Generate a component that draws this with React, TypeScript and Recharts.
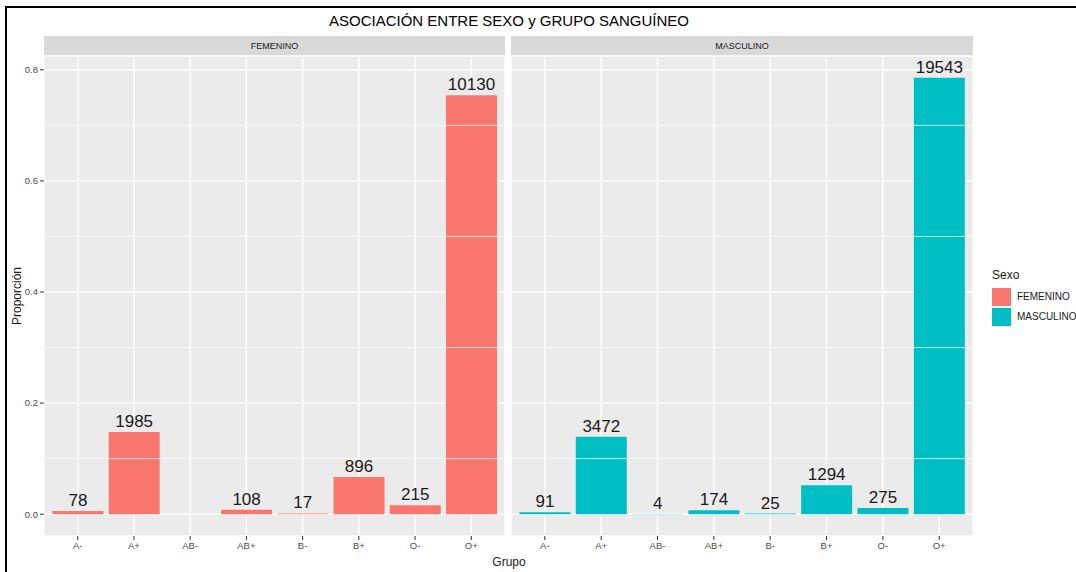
import { BarChart, Bar, XAxis, YAxis, CartesianGrid, ReferenceLine, LabelList } from "recharts";

const GROUPS = ["A-", "A+", "AB-", "AB+", "B-", "B+", "O-", "O+"];
// conteos por grupo (FEMENINO no tiene AB-)
const FEMENINO = [78, 1985, null, 108, 17, 896, 215, 10130];
const MASCULINO = [91, 3472, 4, 174, 25, 1294, 275, 19543];
const SEXES = ["FEMENINO", "MASCULINO"];
const COLORS = ["#F8766D", "#00BFC4"];
const Y_TICKS = [0, 0.2, 0.4, 0.6, 0.8];
const Y_MINOR = [0.1, 0.3, 0.5, 0.7];

const FONT = "'Liberation Sans', Arial, sans-serif";

type Row = { grupo: string; n: number | null; prop: number | null };

function toRows(counts: (number | null)[]): Row[] {
  const total = counts.reduce((s: number, v) => s + (v ?? 0), 0);
  return GROUPS.map((g, i) => ({
    grupo: g,
    n: counts[i],
    prop: counts[i] == null ? null : (counts[i] as number) / total,
  }));
}

const ROWS = [toRows(FEMENINO), toRows(MASCULINO)];
const maxP = Math.max(...ROWS.flat().map((r) => r.prop ?? 0));
// ggplot style 5% expansion
const DOMAIN: [number, number] = [-0.05 * maxP, 1.05 * maxP];

function Panel({ idx, left, width, showY }: { idx: number; left: number; width: number; showY: boolean }) {
  const plotW = width - (showY ? 44 : 0);
  const pad = plotW / 82;
  return (
    <div style={{ position: "absolute", left, top: 0 }}>
      <div
        style={{
          position: "absolute",
          left: showY ? 44 : 0,
          top: 36,
          width: plotW,
          height: 20,
          background: "#D9D9D9",
          color: "#1A1A1A",
          fontSize: 9,
          lineHeight: "20px",
          textAlign: "center",
        }}
      >
        {SEXES[idx]}
      </div>
      <BarChart
        width={width}
        height={572}
        data={ROWS[idx]}
        margin={{ top: 56, right: 0, bottom: 0, left: 0 }}
        barCategoryGap="5%"
      >
        <CartesianGrid fill="#EBEBEB" stroke="#FFFFFF" strokeWidth={1.4} />
        {Y_MINOR.map((v) => (
          <ReferenceLine key={v} y={v} stroke="#FFFFFF" strokeWidth={0.7} />
        ))}
        <XAxis
          dataKey="grupo"
          height={36}
          interval={0}
          padding={{ left: pad, right: pad }}
          axisLine={false}
          tickSize={4}
          tickLine={{ stroke: "#333333" }}
          tick={{ fontSize: 9.5, fill: "#4D4D4D" }}
        />
        <YAxis
          hide={!showY}
          width={showY ? 44 : 0}
          domain={DOMAIN}
          ticks={Y_TICKS}
          axisLine={false}
          tickSize={4}
          tickLine={{ stroke: "#333333" }}
          tick={{ fontSize: 9.5, fill: "#4D4D4D" }}
          tickFormatter={(v: number) => v.toFixed(1)}
        />
        <Bar dataKey="prop" fill={COLORS[idx]} isAnimationActive={false}>
          <LabelList
            dataKey="n"
            position="top"
            offset={5}
            formatter={(v: any) => (v == null ? "" : String(v))}
            style={{ fontSize: 17, fill: "#1A1A1A" }}
          />
        </Bar>
      </BarChart>
    </div>
  );
}

export default function App() {
  return (
    <div
      style={{
        position: "fixed",
        left: 0,
        top: 0,
        width: 1076,
        height: 572,
        background: "#FFFFFF",
        fontFamily: FONT,
        overflow: "hidden",
      }}
    >
      <div
        style={{
          position: "absolute",
          left: 5,
          top: 6,
          width: 1200,
          height: 700,
          borderLeft: "2px solid #000",
          borderTop: "2px solid #000",
        }}
      />
      <div
        style={{
          position: "absolute",
          left: 509,
          top: 20,
          transform: "translate(-50%, -50%)",
          fontSize: 15,
          color: "#000",
          whiteSpace: "nowrap",
        }}
      >
        ASOCIACIÓN ENTRE SEXO y GRUPO SANGUÍNEO
      </div>
      <Panel idx={0} left={0} width={505} showY={true} />
      <Panel idx={1} left={511} width={462} showY={false} />
      <div
        style={{
          position: "absolute",
          left: 17,
          top: 296,
          transform: "translate(-50%, -50%) rotate(-90deg)",
          fontSize: 12,
          color: "#1A1A1A",
          whiteSpace: "nowrap",
        }}
      >
        Proporción
      </div>
      <div
        style={{
          position: "absolute",
          left: 509,
          top: 562,
          transform: "translate(-50%, -50%)",
          fontSize: 12,
          color: "#1A1A1A",
        }}
      >
        Grupo
      </div>
      <div style={{ position: "absolute", left: 992, top: 268, color: "#1A1A1A" }}>
        <div style={{ fontSize: 12, height: 18 }}>Sexo</div>
        {SEXES.map((s, i) => (
          <div key={s} style={{ display: "flex", alignItems: "center", height: 19, marginTop: 1 }}>
            <span style={{ width: 19, height: 18, background: COLORS[i], display: "inline-block" }} />
            <span style={{ fontSize: 10, marginLeft: 6 }}>{s}</span>
          </div>
        ))}
      </div>
    </div>
  );
}
